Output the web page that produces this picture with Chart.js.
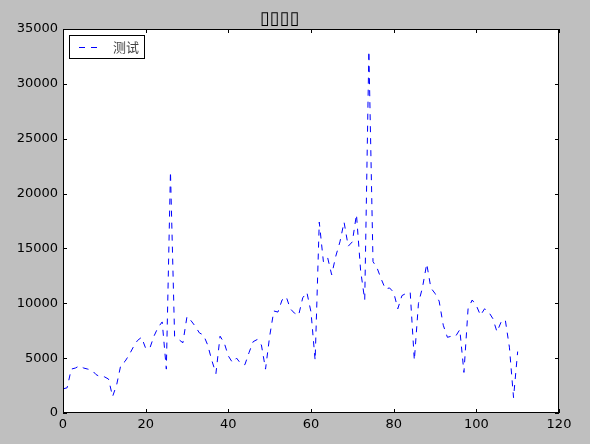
<!DOCTYPE html>
<html>
<head>
<meta charset="utf-8">
<script src="https://cdn.jsdelivr.net/npm/chart.js@4/dist/chart.umd.min.js"></script>
<style>
    body { margin: 0; background: #bfbfbf; }
    #wrap { width: 590px; height: 444px; }
</style>
</head>
<body>
<div id="wrap"><canvas id="chart" width="590" height="444"></canvas></div>
<script>
// DATA
let titleText = "▯▯▯▯";
let seriesName = "测试";
let xTicks = [0, 20, 40, 60, 80, 100, 120];
let yTicks = [0, 5000, 10000, 15000, 20000, 25000, 30000, 35000];
let values = [
    2200, 2300, 4000, 4100, 4300, 4100, 4000, 3900, 3500, 3300,
    3300, 3100, 1500, 2600, 4400, 4700, 5300, 6000, 6600, 6900,
    5900, 5900, 7000, 7800, 8300, 4000, 22000, 7000, 6700, 6400,
    8800, 8400, 7900, 7300, 7100, 6200, 4800, 3600, 7000, 6400,
    5200, 4600, 5000, 4500, 4400, 5500, 6500, 6700, 6200, 4000,
    7000, 9300, 9200, 10300, 10600, 9500, 9100, 8900, 10500, 11000,
    9200, 4800, 17400, 13800, 14200, 12600, 14300, 15600, 17400, 15200,
    15600, 18100, 13000, 10300, 33000, 13800, 13200, 12200, 11300, 11400,
    11000, 9500, 10700, 10900, 11000, 4800, 10000, 11500, 13600, 11400,
    10900, 10200, 8000, 6900, 7000, 7000, 7600, 3700, 9500, 10300,
    9800, 8900, 9500, 9200, 8600, 7400, 8300, 8500, 6000, 1400,
    5600
];

// PLUGIN: figure background, axes frame, inward ticks, legend
const frame = {
    id: "frame",
    beforeDraw(c) {
        let ctx = c.ctx, a = c.chartArea;
        ctx.save();
        ctx.fillStyle = "#bfbfbf";
        ctx.fillRect(0, 0, c.width, c.height);
        ctx.fillStyle = "#ffffff";
        ctx.fillRect(a.left, a.top, a.right - a.left, a.bottom - a.top);
        ctx.restore();
    },
    afterDraw(c) {
        let ctx = c.ctx, a = c.chartArea;
        ctx.save();
        ctx.strokeStyle = "#000";
        ctx.lineWidth = 1;
        ctx.setLineDash([]);
        ctx.beginPath();
        c.scales.x.ticks.forEach(t => {
            let px = Math.round(c.scales.x.getPixelForValue(t.value)) + 0.5;
            ctx.moveTo(px, a.bottom); ctx.lineTo(px, a.bottom - 4);
            ctx.moveTo(px, a.top); ctx.lineTo(px, a.top + 4);
        });
        c.scales.y.ticks.forEach(t => {
            let py = Math.round(c.scales.y.getPixelForValue(t.value)) + 0.5;
            ctx.moveTo(a.left, py); ctx.lineTo(a.left + 4, py);
            ctx.moveTo(a.right, py); ctx.lineTo(a.right - 4, py);
        });
        ctx.stroke();
        ctx.strokeRect(a.left + 0.5, a.top + 0.5, a.right - a.left - 1, a.bottom - a.top - 1);

        // legend
        let lx = a.left + 6, ly = a.top + 6;
        ctx.fillStyle = "#fff";
        ctx.fillRect(lx, ly, 75, 23);
        ctx.strokeRect(lx + 0.5, ly + 0.5, 75, 23);
        ctx.strokeStyle = "#0000ff";
        ctx.setLineDash([6, 6]);
        ctx.beginPath();
        ctx.moveTo(lx + 10, ly + 12.5);
        ctx.lineTo(lx + 30, ly + 12.5);
        ctx.stroke();
        ctx.fillStyle = "#444";
        ctx.font = "13px 'Noto Sans CJK SC'";
        ctx.textBaseline = "middle";
        ctx.fillText(c.data.datasets[0].label, lx + 44, ly + 12);
        ctx.restore();
    }
};

const tickFont = { family: "'DejaVu Sans'", size: 13 };

chart = new Chart(document.getElementById("chart"), {
    type: "line",
    data: {
        datasets: [{
            label: seriesName,
            data: values.map((v, i) => ({ x: i, y: v })),
            borderColor: "#0000ff",
            borderWidth: 1,
            borderDash: [6, 6],
            pointRadius: 0,
            tension: 0,
            fill: false
        }]
    },
    options: {
        responsive: false,
        animation: false,
        layout: { padding: { left: 0, top: 0, right: 31, bottom: 0 } },
        plugins: {
            legend: { display: false },
            tooltip: { enabled: false },
            title: {
                display: true,
                text: titleText,
                color: "#000",
                font: { family: "'DejaVu Sans'", size: 18, weight: "bold", lineHeight: 1 },
                padding: { top: 10, bottom: 1 }
            }
        },
        scales: {
            x: {
                type: "linear",
                min: 0,
                max: 120,
                grid: { display: false, drawTicks: false },
                border: { display: false },
                afterBuildTicks: s => { s.ticks = xTicks.map(v => ({ value: v })); },
                afterFit: s => { s.height = 31; },
                ticks: { color: "#000", font: tickFont, padding: 4, maxRotation: 0, callback: v => String(v) }
            },
            y: {
                min: 0,
                max: 35000,
                grid: { display: false, drawTicks: false },
                border: { display: false },
                afterBuildTicks: s => { s.ticks = yTicks.map(v => ({ value: v })); },
                afterFit: s => { s.width = 63; },
                ticks: { color: "#000", font: tickFont, padding: 5, callback: v => String(v) }
            }
        }
    },
    plugins: [frame]
});
</script>
</body>
</html>
